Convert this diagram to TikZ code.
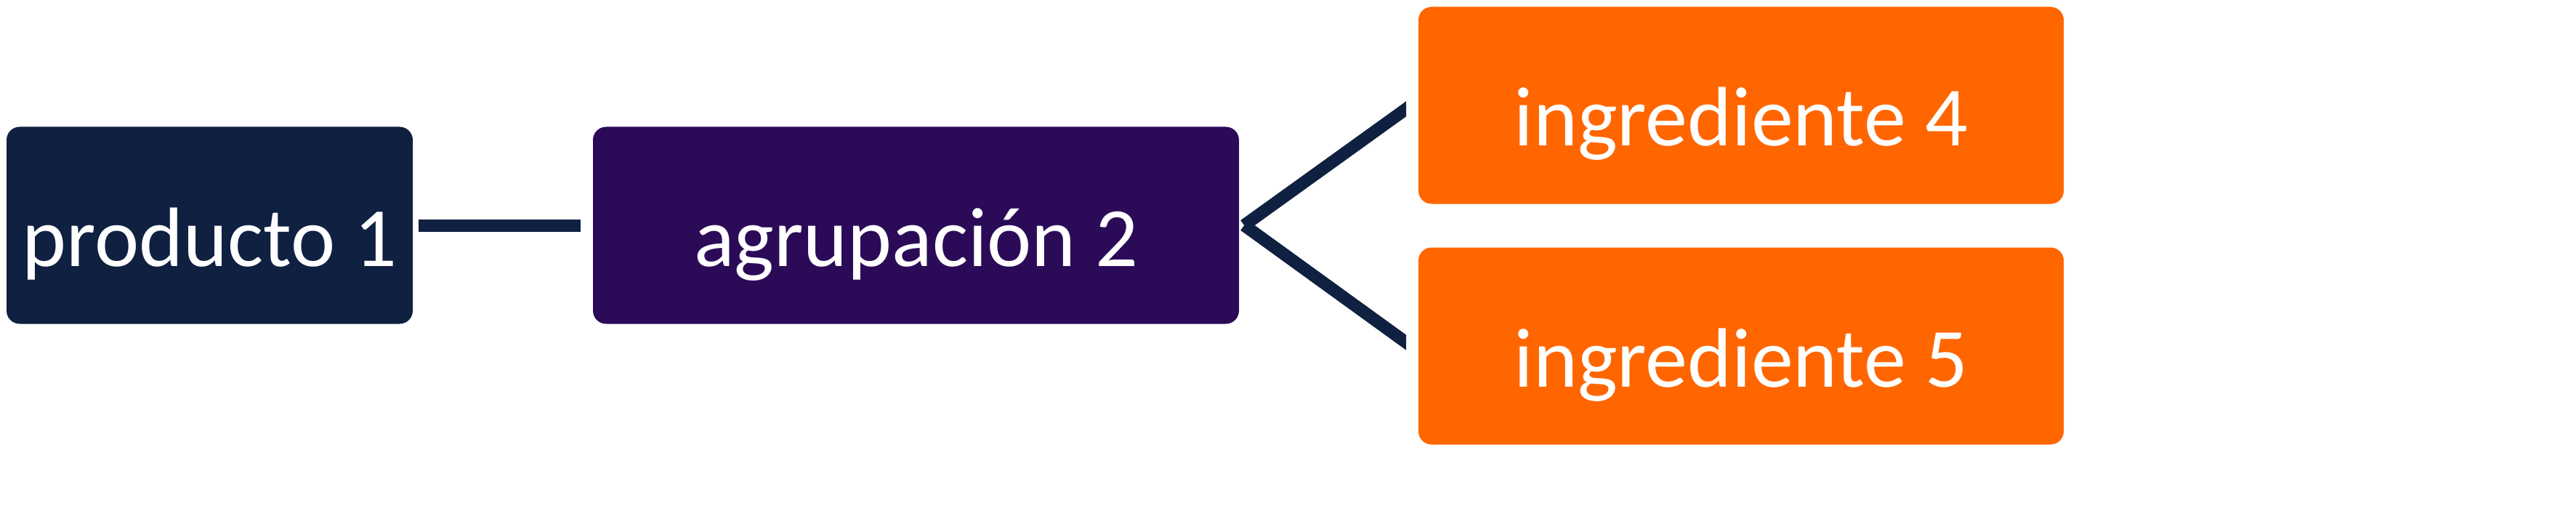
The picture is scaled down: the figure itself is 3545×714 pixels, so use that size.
\documentclass[tikz,border=0pt]{standalone}
\usepackage{fontspec}
\setmainfont{Carlito}
\usetikzlibrary{calc}
\definecolor{navy}{HTML}{0F2041}
\definecolor{grape}{HTML}{2B0B58}
\definecolor{tang}{HTML}{FF6600}
\newcommand{\lowtext}[1]{\raisebox{-56pt}[0pt][0pt]{#1}}
\begin{document}
\begin{tikzpicture}[x=1pt,y=-1pt,
  box/.style={rounded corners=18pt, minimum height=271pt, text=white, inner sep=0pt,
    font=\fontsize{116}{130}\selectfont},
  conn/.style={draw=navy, line width=17pt}]
\useasboundingbox (0,0) rectangle (3545,714);
\node[box, fill=navy, minimum width=559pt] (p1) at (288.5,310) {\lowtext{producto 1}};
\node[box, fill=grape, minimum width=889pt] (a2) at (1260.5,310) {\lowtext{agrupación 2}};
\node[box, fill=tang, minimum width=888pt] (i4) at (2396,145) {\lowtext{ingrediente 4}};
\node[box, fill=tang, minimum width=888pt] (i5) at (2396,476) {\lowtext{ingrediente 5}};
\draw[conn, shorten <=8pt, shorten >=17pt] (p1.east) -- (a2.west);
\coordinate (j) at ([xshift=7pt]a2.east);
\coordinate (t4) at ($(i4.west)+(-17,5)$);
\coordinate (t5) at ($(i5.west)+(-17,-5)$);
\begin{scope}
\clip (1690,0) rectangle (1935,714);
\draw[conn] (j) -- ($(j)!1.15!(t4)$);
\draw[conn] (j) -- ($(j)!1.15!(t5)$);
\end{scope}
\end{tikzpicture}
\end{document}
